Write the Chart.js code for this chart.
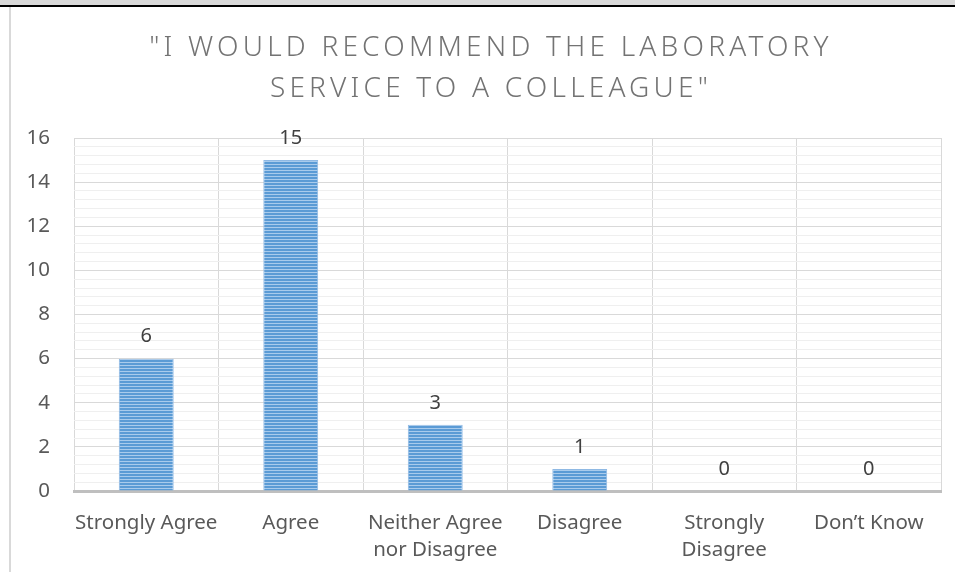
<!DOCTYPE html>
<html>
<head>
<meta charset="utf-8">
<title>Laboratory service recommendation</title>
<script src="https://cdn.jsdelivr.net/npm/chart.js@4"></script>
<style>
  html, body { margin: 0; padding: 0; background: #fff; }
  #frame { position: relative; width: 955px; height: 572px; overflow: hidden; }
  #topBand { position: absolute; left: 0; top: 0; width: 955px; height: 5px; background: #d9d9d9; }
  #topRule { position: absolute; left: 0; top: 5px; width: 955px; height: 2px; background: #000; }
  #leftRule { position: absolute; left: 9px; top: 7px; width: 2px; height: 565px; background: #d9d9d9; }
  #chart { position: absolute; left: 0; top: 0; }
</style>
</head>
<body>
<div id="frame">
  <div id="topBand"></div>
  <div id="topRule"></div>
  <div id="leftRule"></div>
  <canvas id="chart" width="955" height="572"></canvas>
</div>
<script>
const categories = [
  'Strongly Agree',
  'Agree',
  ['Neither Agree', 'nor Disagree'],
  'Disagree',
  ['Strongly', 'Disagree'],
  'Don\u2019t Know'
];
const responses = [6, 15, 3, 1, 0, 0];
const titleLines = ['"I WOULD RECOMMEND THE LABORATORY', 'SERVICE TO A COLLEAGUE"'];
const yMax = 16;
const yMajorStep = 2;
const yMinorStep = 0.4;

const FONT = '"Noto Sans"';
const TEXT = '#595959';

function isMajor(v) {
  return Math.abs(v - Math.round(v / yMajorStep) * yMajorStep) < 1e-6;
}

// horizontal striped fill for the bars
function stripePattern(ctx) {
  const c = document.createElement('canvas');
  c.width = 1;
  c.height = 3;
  const p = c.getContext('2d');
  p.fillStyle = '#5b9bd5';
  p.fillRect(0, 0, 1, 3);
  p.fillStyle = '#a9cbec';
  p.fillRect(0, 2, 1, 1);
  return ctx.createPattern(c, 'repeat');
}

// spaced-out two line title
const spacedTitle = {
  id: 'spacedTitle',
  afterDraw(chart) {
    const ctx = chart.ctx;
    ctx.save();
    ctx.letterSpacing = '4.2px';
    ctx.font = '300 28px ' + FONT;
    ctx.fillStyle = '#737373';
    ctx.textAlign = 'center';
    ctx.textBaseline = 'middle';
    titleLines.forEach((line, i) => {
      ctx.fillText(line, 491, 48 + i * 41);
    });
    ctx.restore();
  }
};

// value printed above each bar
const valueLabels = {
  id: 'valueLabels',
  afterDatasetsDraw(chart) {
    const ctx = chart.ctx;
    const meta = chart.getDatasetMeta(0);
    ctx.save();
    ctx.font = '20px ' + FONT;
    ctx.fillStyle = '#404040';
    ctx.textAlign = 'center';
    ctx.textBaseline = 'middle';
    meta.data.forEach((bar, i) => {
      ctx.fillText(String(responses[i]), bar.x, bar.y - 22);
    });
    ctx.restore();
  }
};

const ctx = document.getElementById('chart').getContext('2d');

new Chart(ctx, {
  type: 'bar',
  data: {
    labels: categories,
    datasets: [{
      data: responses,
      backgroundColor: stripePattern(ctx),
      borderColor: '#8fb9e4',
      borderWidth: { left: 1, right: 1, top: 1, bottom: 0 },
      borderSkipped: false,
      barPercentage: 0.38,
      categoryPercentage: 1
    }]
  },
  options: {
    responsive: false,
    animation: false,
    devicePixelRatio: 1,
    layout: { padding: { top: 138, right: 14, left: 0, bottom: 0 } },
    plugins: {
      legend: { display: false },
      tooltip: { enabled: false },
      title: { display: false }
    },
    scales: {
      x: {
        grid: { color: '#d9d9d9', lineWidth: 1, drawTicks: false, offset: true },
        border: { color: '#bfbfbf', width: 3 },
        ticks: {
          color: TEXT,
          font: { family: FONT, size: 20.5, lineHeight: 1.32 },
          padding: 19,
          maxRotation: 0,
          autoSkip: false
        },
        afterFit(scale) { scale.height = 81; }
      },
      y: {
        min: 0,
        max: yMax,
        grid: {
          color: c => isMajor(c.tick.value) ? '#d9d9d9' : '#efefef',
          lineWidth: 1,
          drawTicks: false
        },
        border: { display: false },
        ticks: {
          stepSize: yMinorStep,
          autoSkip: false,
          padding: 24,
          color: TEXT,
          font: { family: FONT, size: 20.5 },
          callback: v => isMajor(v) ? Math.round(v) : ''
        },
        afterFit(scale) { scale.width = 74; }
      }
    }
  },
  plugins: [spacedTitle, valueLabels]
});
</script>
</body>
</html>
